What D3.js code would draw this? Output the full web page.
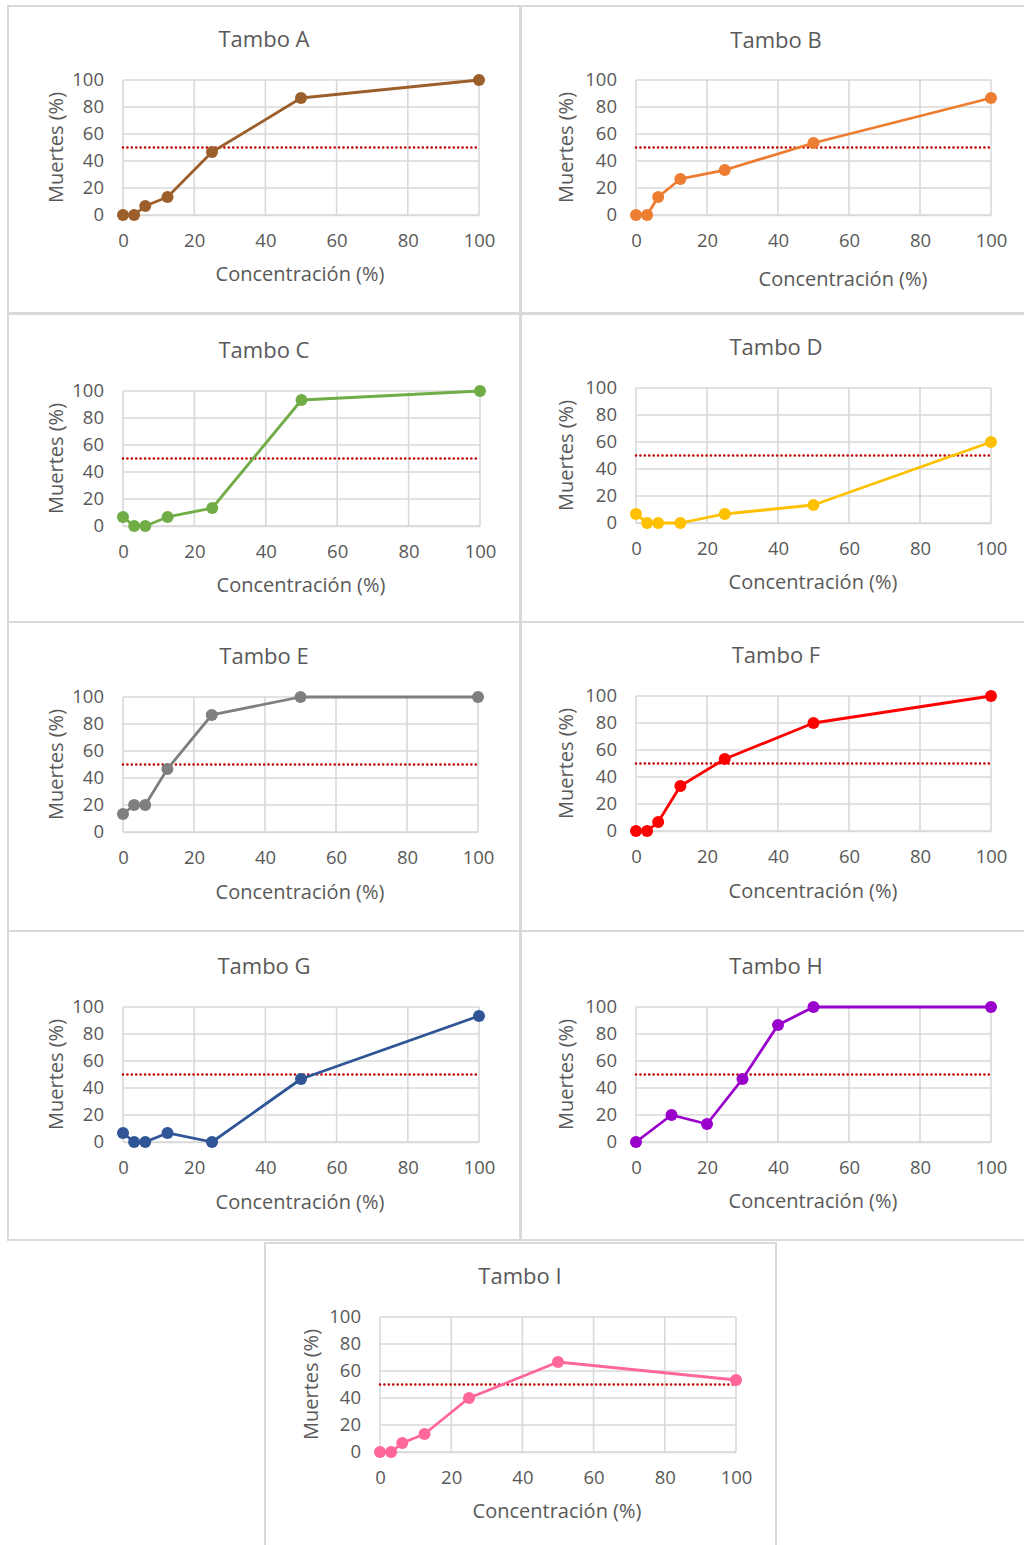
<!DOCTYPE html>
<html><head><meta charset="utf-8">
<script src="https://cdn.jsdelivr.net/npm/d3@7"></script>
<style>
html,body{margin:0;padding:0;background:#fff;}
text{font-family:"Open Sans",sans-serif;fill:#595959;}
</style></head>
<body>
<svg id="c" width="1024" height="1545"></svg>
<script>
// ---- data ----
const titles = ["Tambo A","Tambo B","Tambo C","Tambo D","Tambo E","Tambo F","Tambo G","Tambo H","Tambo I"];
const colors = ["#9C5F2B","#ED7D31","#70AD47","#FFC000","#7F7F7F","#FF0000","#2F5597","#9900CC","#FF6699"];
const concStd = [0,3.125,6.25,12.5,25,50,100];
const concH = [0,10,20,30,40,50,100];
const concentrations = [concStd,concStd,concStd,concStd,concStd,concStd,concStd,concH,concStd];
const deathsA = [0,0,6.67,13.33,46.67,86.67,100];
const deathsB = [0,0,13.33,26.67,33.33,53.33,86.67];
const deathsC = [6.67,0,0,6.67,13.33,93.33,100];
const deathsD = [6.67,0,0,0,6.67,13.33,60];
const deathsE = [13.33,20,20,46.67,86.67,100,100];
const deathsF = [0,0,6.67,33.33,53.33,80,100];
const deathsG = [6.67,0,0,6.67,0,46.67,93.33];
const deathsH = [0,20,13.33,46.67,86.67,100,100];
const deathsI = [0,0,6.67,13.33,40,66.67,53.33];
const deaths = [deathsA,deathsB,deathsC,deathsD,deathsE,deathsF,deathsG,deathsH,deathsI];
const xTicks = [0,20,40,60,80,100];
const yTicks = [0,20,40,60,80,100];
const threshold = 50;
const xLabel = "Concentración (%)";
const yLabel = "Muertes (%)";

// ---- layout ----
const layout = [
 {box:[8,6,512,307],   px:[123,479], py:[80,215],   ty:38,  tx:264, xtx:300, xty:273, ytx:55},
 {box:[521,6,510,307], px:[636,991], py:[80,215],   ty:39,  tx:776, xtx:843, xty:278, ytx:565},
 {box:[8,314,512,308], px:[123,480], py:[391,526],  ty:349, tx:264, xtx:301, xty:584, ytx:55},
 {box:[521,314,510,308],px:[636,991],py:[388,523],  ty:346, tx:776, xtx:813, xty:581, ytx:565},
 {box:[8,622,512,309], px:[123,478], py:[697,832],  ty:655, tx:264, xtx:300, xty:891, ytx:55},
 {box:[521,622,510,309],px:[636,991],py:[696,831],  ty:654, tx:776, xtx:813, xty:890, ytx:565},
 {box:[8,931,512,309], px:[123,479], py:[1007,1142],ty:965, tx:264, xtx:300, xty:1201,ytx:55},
 {box:[521,931,510,309],px:[636,991],py:[1007,1142],ty:965, tx:776, xtx:813, xty:1200,ytx:565},
 {box:[265,1243,511,310],px:[380,736],py:[1317,1452],ty:1275,tx:520, xtx:557, xty:1510,ytx:310}
];

const FONT = "'Open Sans',sans-serif";
const svg = d3.select("#c");
svg.append("rect").attr("width",1024).attr("height",1545).attr("fill","#fff");

layout.forEach((L,i)=>{
  const g = svg.append("g");
  g.append("rect").attr("x",L.box[0]).attr("y",L.box[1]).attr("width",L.box[2]).attr("height",L.box[3])
    .attr("fill","#fff").attr("stroke","#d9d9d9").attr("stroke-width",2);
  const x = d3.scaleLinear().domain([0,100]).range(L.px);
  const y = d3.scaleLinear().domain([0,100]).range([L.py[1],L.py[0]]);

  // gridlines
  g.append("g").selectAll("line").data(yTicks).join("line")
    .attr("x1",L.px[0]).attr("x2",L.px[1]).attr("y1",d=>y(d)).attr("y2",d=>y(d))
    .attr("stroke","#d9d9d9").attr("stroke-width",1.6);
  g.append("g").selectAll("line").data(xTicks).join("line")
    .attr("y1",L.py[0]).attr("y2",L.py[1]).attr("x1",d=>x(d)).attr("x2",d=>x(d))
    .attr("stroke","#d9d9d9").attr("stroke-width",1.6);

  // axes via d3 axis
  const ax = g.append("g").attr("transform",`translate(0,${L.py[1]})`)
    .call(d3.axisBottom(x).tickValues(xTicks).tickSize(0).tickPadding(19).tickFormat(d3.format("d")));
  ax.select(".domain").attr("stroke","#d9d9d9").attr("stroke-width",1.6);
  ax.selectAll("text").attr("font-size",18.5).attr("fill","#595959").attr("font-family",FONT);
  const ay = g.append("g").attr("transform",`translate(${L.px[0]},0)`)
    .call(d3.axisLeft(y).tickValues(yTicks).tickSize(0).tickPadding(19).tickFormat(d3.format("d")));
  ay.select(".domain").remove();
  ay.selectAll("text").attr("font-size",18.5).attr("fill","#595959").attr("font-family",FONT);

  // threshold
  g.append("line").attr("x1",L.px[0]).attr("x2",L.px[1]).attr("y1",y(threshold)).attr("y2",y(threshold))
    .attr("stroke","#C00000").attr("stroke-width",2.6).attr("stroke-dasharray","0.01,4.4").attr("stroke-linecap","round");

  // series
  const pts = concentrations[i].map((c,j)=>[c,deaths[i][j]]);
  g.append("path").datum(pts).attr("fill","none").attr("stroke",colors[i]).attr("stroke-width",2.8)
    .attr("stroke-linejoin","round")
    .attr("d",d3.line().x(d=>x(d[0])).y(d=>y(d[1])));
  g.append("g").selectAll("circle").data(pts).join("circle")
    .attr("cx",d=>x(d[0])).attr("cy",d=>y(d[1])).attr("r",6).attr("fill",colors[i]);

  // titles
  g.append("text").attr("x",L.tx).attr("y",L.ty).attr("text-anchor","middle").attr("dominant-baseline","central")
    .attr("font-size",22).text(titles[i]);
  g.append("text").attr("x",L.xtx).attr("y",L.xty).attr("text-anchor","middle").attr("dominant-baseline","central")
    .attr("font-size",20).text(xLabel);
  g.append("text").attr("transform",`translate(${L.ytx},${(L.py[0]+L.py[1])/2}) rotate(-90)`)
    .attr("text-anchor","middle").attr("dominant-baseline","central").attr("font-size",20).text(yLabel);
});
</script>
</body></html>
